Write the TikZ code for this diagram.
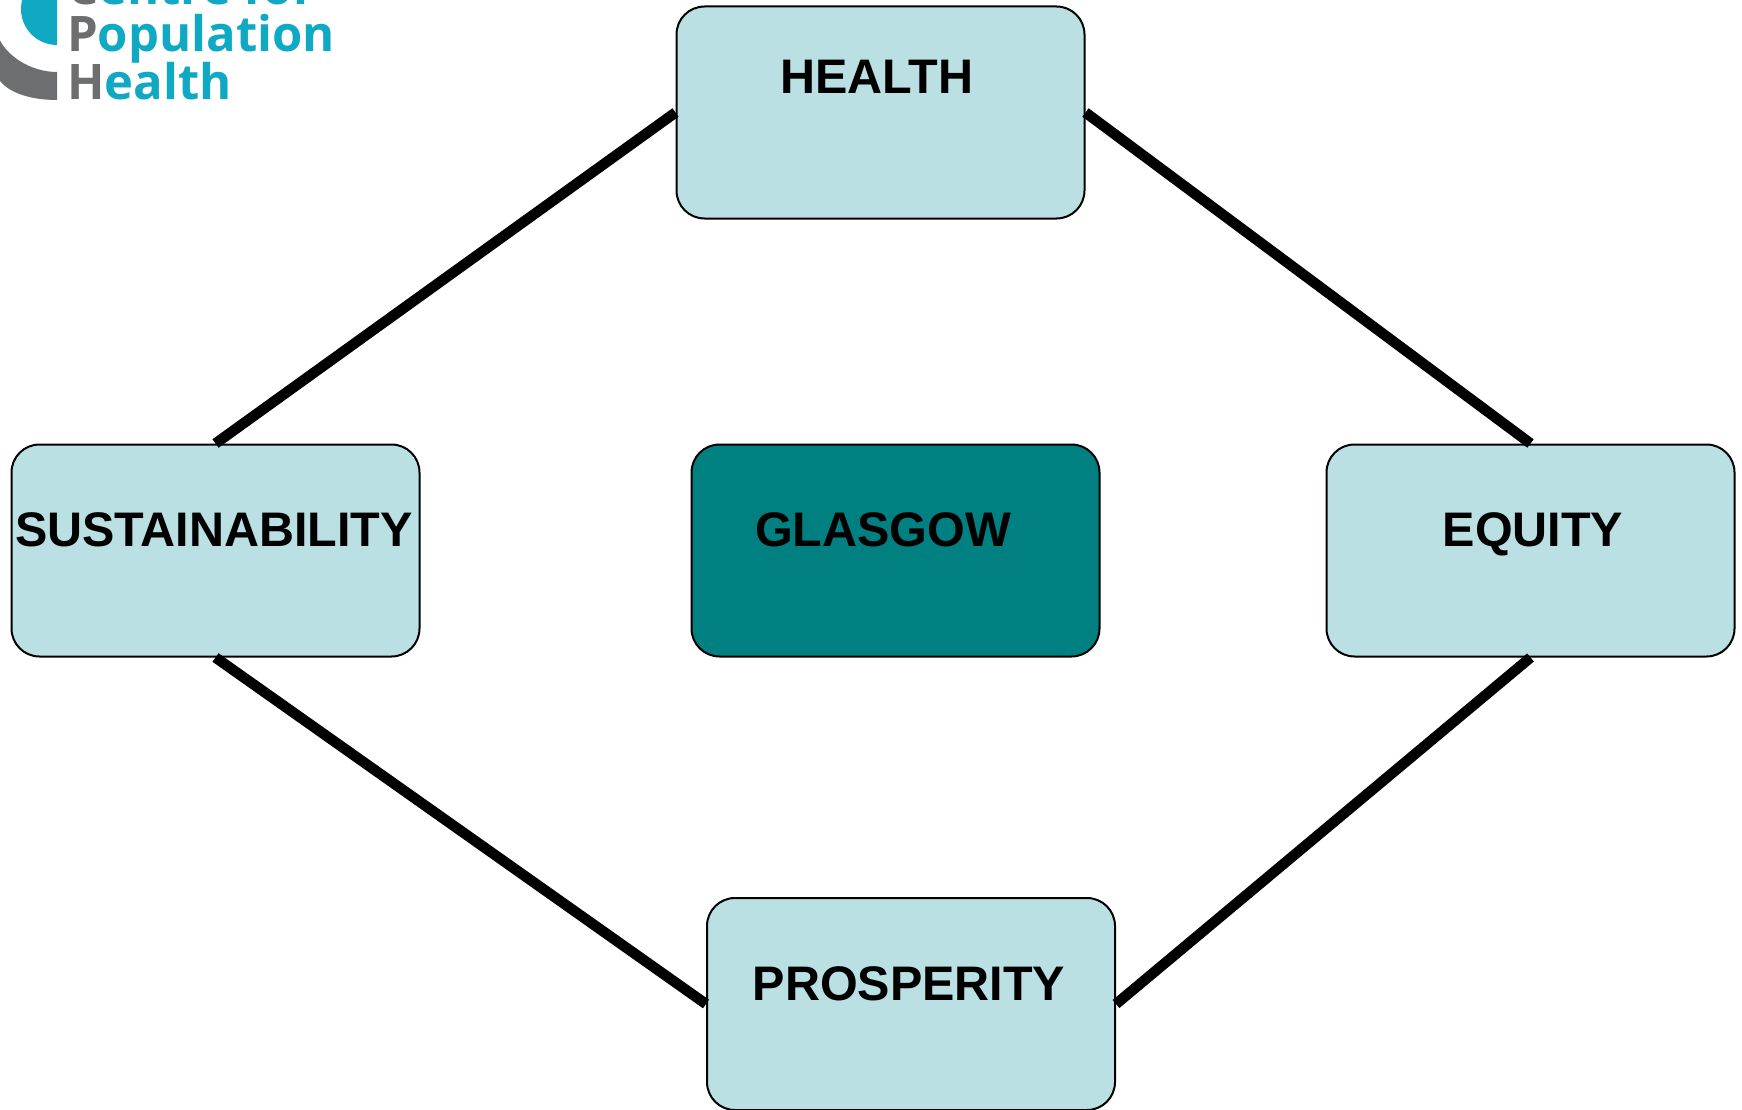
\documentclass[tikz,border=0pt]{standalone}
\usepackage{fontspec}
\setmainfont{Liberation Sans}
\newfontfamily\logofont[Ligatures=NoCommon]{Open Sans}
\definecolor{boxlight}{HTML}{BAE0E3}
\definecolor{boxdark}{HTML}{008080}
\definecolor{logoteal}{HTML}{0FA9C4}
\definecolor{logogray}{HTML}{6D6E70}
\tikzset{
  every picture/.style={x=1pt,y=-1pt},
  box/.style={draw=black,line width=2pt,rounded corners=28pt,minimum width=408pt,minimum height=212pt,inner sep=0pt},
  lightbox/.style={box,fill=boxlight},
  darkbox/.style={box,fill=boxdark},
  lbl/.style={font=\fontsize{48.5}{50}\selectfont\bfseries,text=black,inner sep=0pt,anchor=center,text height=35pt,text depth=0pt},
  link/.style={draw=black,line width=10.5pt},
  logotext/.style={font=\logofont\fontsize{49}{49}\selectfont\bfseries,text=logoteal,inner sep=0pt,anchor=base west}
}
\begin{document}
\begin{tikzpicture}
\useasboundingbox (0,0) rectangle (1742,1110);
\begin{scope}
\clip (0,0) rectangle (1742,1110);
\fill[logoteal] (57,45) arc[start angle=90,end angle=270,radius=36] -- cycle;
\fill[logogray] (57,100) .. controls (25,100) and (5,90) .. (-2,78) -- (-2,36) .. controls (5,55) and (30,72) .. (57,72) -- cycle;
\node[logotext] (logoa) at (67,5) {\textcolor{logogray}{C}entre for};
\node[logotext] (logob) at (67,52) {\textcolor{logogray}{P}opulation};
\node[logotext] (logoc) at (67,100) {\textcolor{logogray}{H}ealth};
\end{scope}
\node[lightbox] (health) at (880.5,112.5) {};
\node[lightbox] (sust) at (215.5,550.5) {};
\node[darkbox] (glasgow) at (895.5,550.5) {};
\node[lightbox] (equity) at (1530.5,550.5) {};
\node[lightbox] (prosp) at (911,1004) {};
\node[lbl] (thealth) at (877,76) {HEALTH};
\node[lbl] (tsust) at (214,529) {SUSTAINABILITY};
\node[lbl] (tglasgow) at (883,529) {GLASGOW};
\node[lbl] (tequity) at (1533,529) {EQUITY};
\node[lbl] (tprosp) at (909,983) {PROSPERITY};
\draw[link] (health.west) -- (sust.north);
\draw[link] (health.east) -- (equity.north);
\draw[link] (sust.south) -- (prosp.west);
\draw[link] (equity.south) -- (prosp.east);
\end{tikzpicture}
\end{document}
